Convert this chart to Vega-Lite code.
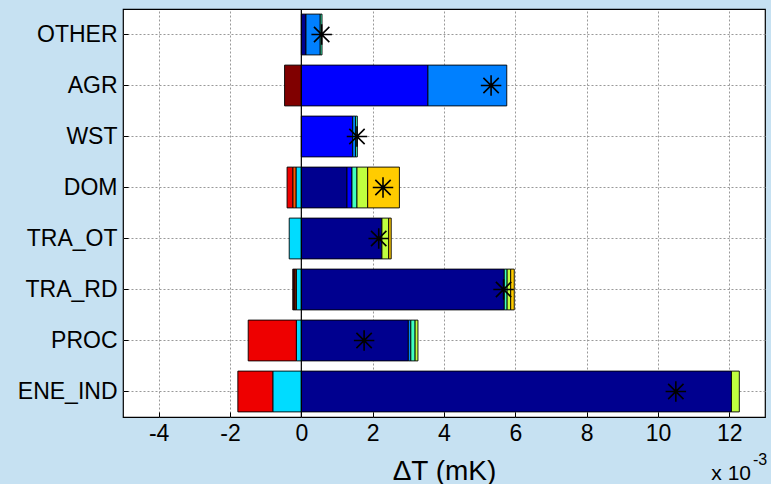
{
  "$schema": "https://vega.github.io/schema/vega-lite/v6.json",
  "width": 642,
  "height": 408,
  "autosize": {"type": "none"},
  "padding": {"left": 123, "top": 9, "right": 6, "bottom": 67},
  "background": "#c6e1f2",
  "config": {
    "font": "Liberation Sans",
    "view": {"fill": "white", "stroke": "black", "strokeWidth": 1.2},
    "axis": {
      "grid": true,
      "gridColor": "#999999",
      "gridDash": [2, 2],
      "gridWidth": 1,
      "domain": false,
      "tickColor": "black",
      "tickSize": -5,
      "labelColor": "black",
      "labelFontSize": 23,
      "titleColor": "black",
      "titleFontWeight": "normal"
    }
  },
  "datasets": {
    "parts": [
      {"sector": "ENE_IND", "comp": "c01", "value": 12.06},
      {"sector": "ENE_IND", "comp": "c06", "value": 0.22},
      {"sector": "ENE_IND", "comp": "c04", "value": -0.80},
      {"sector": "ENE_IND", "comp": "c09", "value": -0.98},
      {"sector": "PROC", "comp": "c01", "value": 3.00},
      {"sector": "PROC", "comp": "c03", "value": 0.07},
      {"sector": "PROC", "comp": "c05", "value": 0.12},
      {"sector": "PROC", "comp": "c06", "value": 0.08},
      {"sector": "PROC", "comp": "c04", "value": -0.14},
      {"sector": "PROC", "comp": "c09", "value": -1.35},
      {"sector": "TRA_RD", "comp": "c01", "value": 5.69},
      {"sector": "TRA_RD", "comp": "c05", "value": 0.08},
      {"sector": "TRA_RD", "comp": "c06", "value": 0.10},
      {"sector": "TRA_RD", "comp": "c07", "value": 0.10},
      {"sector": "TRA_RD", "comp": "c04", "value": -0.14},
      {"sector": "TRA_RD", "comp": "c08", "value": -0.04},
      {"sector": "TRA_RD", "comp": "c09", "value": -0.03},
      {"sector": "TRA_RD", "comp": "c10", "value": -0.03},
      {"sector": "TRA_OT", "comp": "c01", "value": 2.26},
      {"sector": "TRA_OT", "comp": "c06", "value": 0.19},
      {"sector": "TRA_OT", "comp": "c07", "value": 0.07},
      {"sector": "TRA_OT", "comp": "c04", "value": -0.34},
      {"sector": "DOM", "comp": "c01", "value": 1.28},
      {"sector": "DOM", "comp": "c02", "value": 0.14},
      {"sector": "DOM", "comp": "c05", "value": 0.14},
      {"sector": "DOM", "comp": "c06", "value": 0.30},
      {"sector": "DOM", "comp": "c07", "value": 0.89},
      {"sector": "DOM", "comp": "c04", "value": -0.15},
      {"sector": "DOM", "comp": "c08", "value": -0.09},
      {"sector": "DOM", "comp": "c09", "value": -0.16},
      {"sector": "WST", "comp": "c02", "value": 1.44},
      {"sector": "WST", "comp": "c03", "value": 0.08},
      {"sector": "WST", "comp": "c05", "value": 0.05},
      {"sector": "AGR", "comp": "c02", "value": 3.55},
      {"sector": "AGR", "comp": "c03", "value": 2.21},
      {"sector": "AGR", "comp": "c10", "value": -0.47},
      {"sector": "OTHER", "comp": "c01", "value": 0.13},
      {"sector": "OTHER", "comp": "c03", "value": 0.40},
      {"sector": "OTHER", "comp": "c05", "value": 0.05}
    ],
    "net": [
      {"sector": "OTHER", "net": 0.57},
      {"sector": "AGR", "net": 5.32},
      {"sector": "WST", "net": 1.56},
      {"sector": "DOM", "net": 2.29},
      {"sector": "TRA_OT", "net": 2.17},
      {"sector": "TRA_RD", "net": 5.67},
      {"sector": "PROC", "net": 1.76},
      {"sector": "ENE_IND", "net": 10.50}
    ],
    "mult": [{"label": "x 10"}],
    "expo": [{"label": "-3"}]
  },
  "layer": [
    {
      "data": {"name": "parts"},
      "mark": {"type": "bar", "stroke": "black", "strokeWidth": 0.9},
      "encoding": {
        "y": {
          "field": "sector",
          "type": "nominal",
          "sort": null,
          "scale": {
            "domain": ["OTHER", "AGR", "WST", "DOM", "TRA_OT", "TRA_RD", "PROC", "ENE_IND"],
            "paddingInner": 0.2,
            "paddingOuter": 0.1
          },
          "axis": {"title": null, "bandPosition": 0.5, "labelPadding": 11}
        },
        "x": {
          "field": "value",
          "type": "quantitative",
          "stack": "zero",
          "scale": {"domain": [-5, 13], "nice": false, "zero": false},
          "axis": {
            "values": [-4, -2, 0, 2, 4, 6, 8, 10, 12],
            "labelExpr": "replace(datum.label, '−', '-')",
            "labelPadding": 10,
            "title": "ΔT (mK)",
            "titleFontSize": 28,
            "titleBaseline": "alphabetic",
            "titleY": 62
          }
        },
        "color": {
          "field": "comp",
          "type": "nominal",
          "scale": {
            "domain": ["c01", "c02", "c03", "c04", "c05", "c06", "c07", "c08", "c09", "c10"],
            "range": ["#00008f", "#0000ff", "#0080ff", "#00dcff", "#40ffbf", "#c0ff3f", "#ffcc00", "#ff5500", "#ee0000", "#800000"]
          },
          "legend": null
        },
        "order": {"field": "comp", "sort": "ascending"}
      }
    },
    {
      "data": {"values": [{"base": 0}]},
      "mark": {"type": "rule", "color": "black", "strokeWidth": 1.2},
      "encoding": {"x": {"field": "base", "type": "quantitative"}}
    },
    {
      "data": {"name": "net"},
      "mark": {
        "type": "point",
        "shape": "M-1,0L1,0M0,-1L0,1M-0.75,-0.75L0.75,0.75M-0.75,0.75L0.75,-0.75",
        "size": 420,
        "filled": false,
        "stroke": "black",
        "strokeWidth": 1.6,
        "opacity": 1
      },
      "encoding": {
        "y": {"field": "sector", "type": "nominal", "sort": null},
        "x": {"field": "net", "type": "quantitative"}
      }
    },
    {
      "data": {"name": "mult"},
      "mark": {"type": "text", "align": "right", "baseline": "alphabetic", "fontSize": 21, "color": "black", "dx": -14, "dy": 88},
      "encoding": {
        "x": {"datum": 13},
        "y": {"datum": "ENE_IND"},
        "text": {"field": "label"}
      }
    },
    {
      "data": {"name": "expo"},
      "mark": {"type": "text", "align": "left", "baseline": "alphabetic", "fontSize": 16, "color": "black", "dx": -12, "dy": 73},
      "encoding": {
        "x": {"datum": 13},
        "y": {"datum": "ENE_IND"},
        "text": {"field": "label"}
      }
    }
  ]
}
